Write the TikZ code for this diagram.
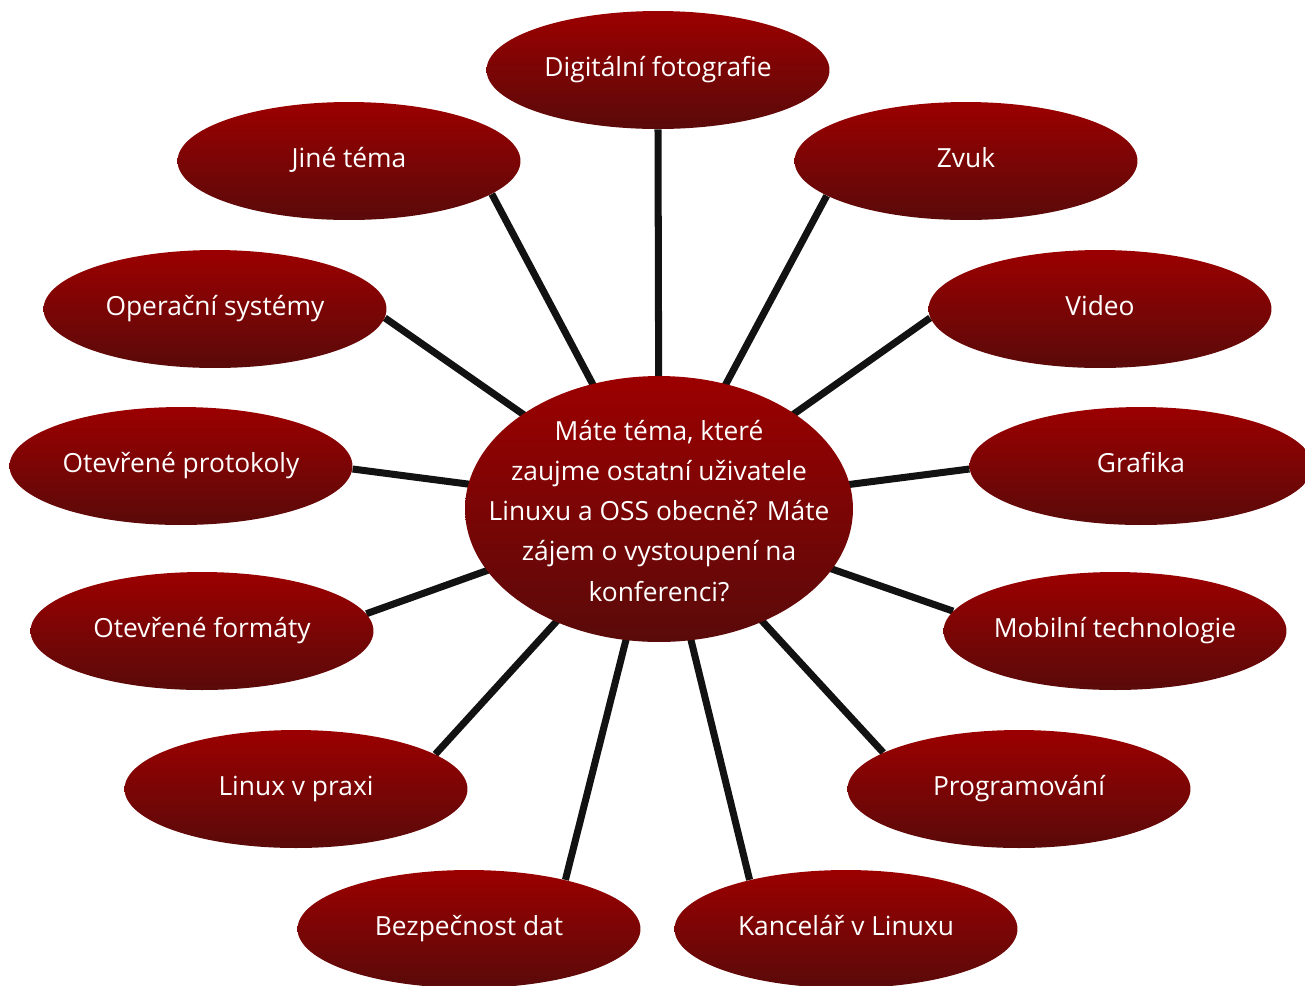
\documentclass[tikz,border=0pt]{standalone}
\usepackage{fontspec}
\setmainfont{Open Sans}[Ligatures=NoCommon]
\usetikzlibrary{shapes.geometric}
\pgfdeclarelayer{background}
\pgfsetlayers{background,main}
\definecolor{topred}{HTML}{9C0000}
\definecolor{botred}{HTML}{5A0A0A}
\definecolor{linec}{HTML}{121212}
\tikzset{
  topic/.style={ellipse, inner sep=0pt, minimum width=6.86cm, minimum height=2.36cm,
    top color=topred, bottom color=botred, draw=none, text=white,
    text height=0.36cm, text depth=0.12cm,
    font=\fontsize{15}{18}\selectfont},
  hub/.style={ellipse, inner sep=0pt, minimum width=7.76cm, minimum height=5.32cm,
    top color=topred, bottom color=botred, draw=none},
  hubtext/.style={text=white, align=center, inner sep=0pt,
    font=\fontsize{15}{22.8}\selectfont},
  spoke/.style={draw=linec, line width=4pt}
}
\begin{document}
\begin{tikzpicture}[x=0.02cm, y=-0.02cm]
\useasboundingbox (0,0) rectangle (1305,985);
\node[hub] (c) at (659,509) {};
\node[hubtext] (ct) at (659,511) {Máte téma, které\\zaujme ostatní uživatele\\Linuxu a OSS obecně? Máte\\zájem o vystoupení na\\konferenci?};
\node[topic] (dig) at (658,70) {Digitální fotografie};
\node[topic] (jin) at (349,161) {Jiné téma};
\node[topic] (zvu) at (966,161) {Zvuk};
\node[topic] (ops) at (215,309) {Operační systémy};
\node[topic] (vid) at (1100,309) {Video};
\node[topic] (pro) at (181,466) {Otevřené protokoly};
\node[topic] (gra) at (1141,466) {Grafika};
\node[topic] (for) at (202,631) {Otevřené formáty};
\node[topic] (mob) at (1115,631) {Mobilní technologie};
\node[topic] (lin) at (296,789) {Linux v praxi};
\node[topic] (prg) at (1019,789) {Programování};
\node[topic] (bez) at (469,929) {Bezpečnost dat};
\node[topic] (kan) at (846,929) {Kancelář v Linuxu};
\begin{pgfonlayer}{background}
\draw[spoke] (c.center) -- (dig.-90);
\draw[spoke] (c.center) -- (jin.-13.5);
\draw[spoke] (c.center) -- (zvu.-166.5);
\draw[spoke] (c.center) -- (ops.-3);
\draw[spoke] (c.center) -- (vid.183);
\draw[spoke] (c.center) -- (pro.-1);
\draw[spoke] (c.center) -- (gra.181);
\draw[spoke] (c.center) -- (for.6.3);
\draw[spoke] (c.center) -- (mob.173.8);
\draw[spoke] (c.center) -- (lin.14.9);
\draw[spoke] (c.center) -- (prg.165.1);
\draw[spoke] (c.center) -- (bez.27);
\draw[spoke] (c.center) -- (kan.153.4);
\end{pgfonlayer}
\end{tikzpicture}
\end{document}
